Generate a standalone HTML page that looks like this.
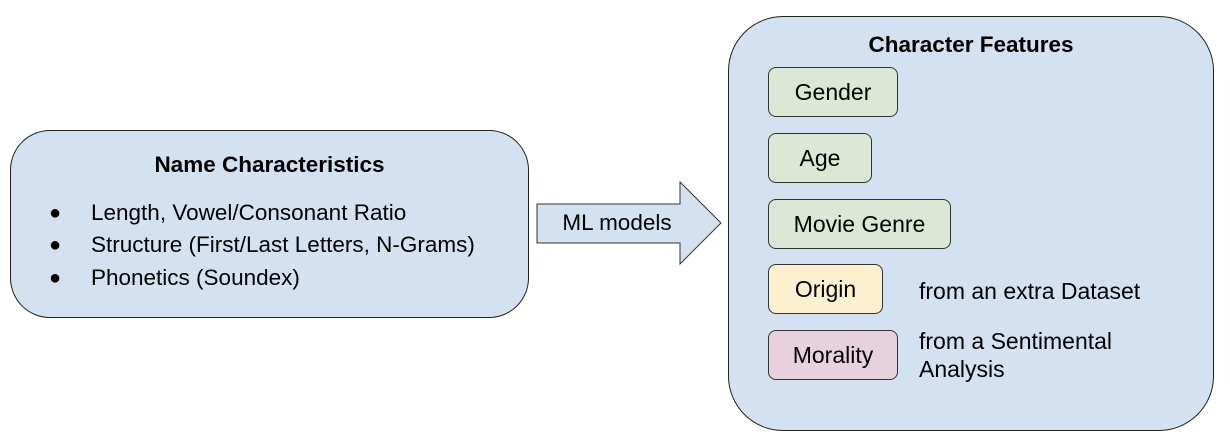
<!DOCTYPE html>
<html><head><meta charset="utf-8"><style>
body{margin:0;width:1230px;height:448px;background:#fff;position:relative;overflow:hidden;font-family:"Liberation Sans",Arial,sans-serif;color:#000}
.a{position:absolute;box-sizing:border-box}
.big{background:#d4e1f0;border:1.5px solid #222}
.box{border:1.3px solid #333;border-radius:8px;display:flex;align-items:center;justify-content:center;font-size:23px}
.g{background:#dce8d5}.y{background:#fcf0cf}.p{background:#e6d1dc}
.t{font-size:22.5px;position:absolute;white-space:nowrap;line-height:26px}
</style></head><body>
<div class="a big" style="left:10px;top:130px;width:519px;height:188px;border-radius:40px"></div>
<div class="t" style="left:0;width:539px;text-align:center;top:152px;font-weight:bold;font-size:22.5px">Name Characteristics</div>
<div class="t" style="left:49px;top:200px;font-size:20px">●</div><div class="t" style="left:91px;top:200px">Length, Vowel/Consonant Ratio</div>
<div class="t" style="left:49px;top:232px;font-size:20px">●</div><div class="t" style="left:91px;top:232px">Structure (First/Last Letters, N-Grams)</div>
<div class="t" style="left:49px;top:265px;font-size:20px">●</div><div class="t" style="left:91px;top:265px">Phonetics (Soundex)</div>
<svg class="a" style="left:0;top:0" width="1230" height="448"><polygon points="537,204 680,204 680,182 721,223 680,264 680,243 537,243" fill="#d4e1f0" stroke="#333" stroke-width="1"/></svg>
<div class="t" style="left:537px;width:160px;text-align:center;top:210px">ML models</div>
<div class="a big" style="left:728px;top:16px;width:486px;height:415px;border-radius:55px"></div>
<div class="t" style="left:728px;width:486px;text-align:center;top:32px;font-weight:bold;font-size:22.5px">Character Features</div>
<div class="a box g" style="left:768px;top:67px;width:130px;height:50px">Gender</div>
<div class="a box g" style="left:768px;top:133px;width:104px;height:50px">Age</div>
<div class="a box g" style="left:768px;top:199px;width:183px;height:50px">Movie Genre</div>
<div class="a box y" style="left:768px;top:264px;width:115px;height:50px">Origin</div>
<div class="a box p" style="left:768px;top:330px;width:130px;height:50px">Morality</div>
<div class="t" style="left:919px;top:278px;font-size:23px">from an extra Dataset</div>
<div class="t" style="left:919px;top:327px;line-height:28px;font-size:23px">from a Sentimental<br>Analysis</div>
</body></html>
